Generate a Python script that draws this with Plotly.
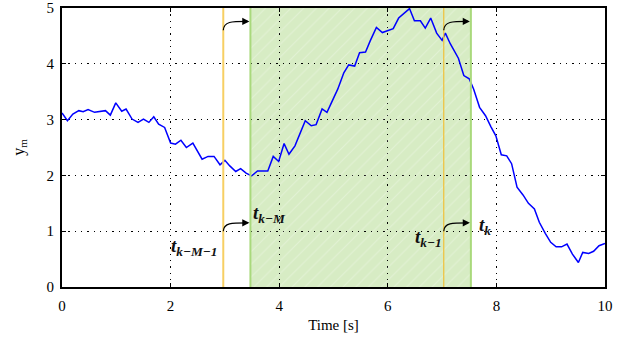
import plotly.graph_objects as go

# ---- data ----
time_s = [0.00, 0.10, 0.20, 0.31, 0.39, 0.48, 0.60, 0.70, 0.80, 0.89, 0.99, 1.10, 1.18, 1.29,
          1.40, 1.50, 1.60, 1.69, 1.78, 1.89, 2.00, 2.09, 2.19, 2.29, 2.41, 2.58, 2.69, 2.80,
          2.91, 3.00, 3.09, 3.20, 3.29, 3.39, 3.49, 3.60, 3.79, 3.89, 3.99, 4.09, 4.18, 4.29,
          4.39, 4.48, 4.59, 4.68, 4.79, 4.88, 5.08, 5.19, 5.28, 5.39, 5.48, 5.59, 5.68, 5.79,
          5.90, 6.00, 6.10, 6.20, 6.29, 6.40, 6.49, 6.60, 6.69, 6.79, 6.90, 7.00, 7.06, 7.15,
          7.30, 7.40, 7.50, 7.58, 7.69, 7.80, 7.90, 7.99, 8.09, 8.19, 8.28, 8.38, 8.49, 8.59,
          8.70, 8.79, 8.90, 9.00, 9.10, 9.20, 9.30, 9.40, 9.51, 9.59, 9.70, 9.79, 9.89, 10.00]
y_m = [3.12, 2.98, 3.10, 3.16, 3.14, 3.18, 3.13, 3.15, 3.16, 3.08, 3.30, 3.15, 3.19, 3.01,
       2.95, 3.01, 2.95, 3.05, 2.92, 2.86, 2.58, 2.56, 2.63, 2.50, 2.58, 2.29, 2.34, 2.34,
       2.19, 2.27, 2.17, 2.07, 2.12, 2.04, 1.99, 2.08, 2.08, 2.34, 2.25, 2.57, 2.38, 2.53,
       2.77, 2.98, 2.89, 2.91, 3.19, 3.13, 3.55, 3.84, 3.98, 3.96, 4.20, 4.21, 4.42, 4.65,
       4.56, 4.59, 4.63, 4.82, 4.90, 4.99, 4.77, 4.77, 4.64, 4.82, 4.55, 4.42, 4.55, 4.36,
       4.10, 3.79, 3.73, 3.55, 3.22, 3.07, 2.87, 2.71, 2.37, 2.35, 2.21, 1.79, 1.65, 1.50,
       1.40, 1.16, 0.96, 0.80, 0.72, 0.72, 0.77, 0.59, 0.44, 0.62, 0.60, 0.64, 0.74, 0.78]

x_ticks = [0, 2, 4, 6, 8, 10]
y_ticks = [0, 1, 2, 3, 4, 5]

# time instants of the window
t_k_M_1 = 2.97
t_k_M = 3.47
t_k_1 = 7.03
t_k = 7.53

# arrow levels (start at old instant, end at new instant)
arrow_top = [4.60, 4.76]
arrow_bottom = [1.00, 1.15]

label_texts = ["t", "k\u2212M\u22121", "k\u2212M", "k\u22121", "k"]
label_y = [0.72, 1.31, 0.87, 1.10]

BLUE = "#0000ff"
YELLOW = "#f7cf63"
GREEN_LINE = "#a9d97c"
GREEN_FILL = "#d7ecc4"
FONT = "Liberation Serif"

fig = go.Figure()

# hatch overlay on the window (transparent background, white diagonal lines)
fig.add_trace(go.Scatter(
    x=[t_k_M, t_k, t_k, t_k_M, t_k_M], y=[0, 0, 5, 5, 0],
    mode="lines", line=dict(width=0), fill="toself",
    fillcolor="rgba(0,0,0,0)",
    fillpattern=dict(shape="/", fgcolor="rgba(255,255,255,0.55)",
                     bgcolor="rgba(0,0,0,0)", size=9, solidity=0.12),
    hoverinfo="skip", showlegend=False))

# the measurement
fig.add_trace(go.Scatter(x=time_s, y=y_m, mode="lines",
                         line=dict(color=BLUE, width=1.5), showlegend=False))

shapes = [
    dict(type="rect", xref="x", yref="y", x0=t_k_M, x1=t_k, y0=0, y1=5,
         fillcolor=GREEN_FILL, line=dict(width=0), layer="below"),
    dict(type="line", xref="x", yref="y", x0=t_k_M_1, x1=t_k_M_1, y0=0, y1=5,
         line=dict(color=YELLOW, width=2)),
    dict(type="line", xref="x", yref="y", x0=t_k_M, x1=t_k_M, y0=0, y1=5,
         line=dict(color=GREEN_LINE, width=2)),
    dict(type="line", xref="x", yref="y", x0=t_k, x1=t_k, y0=0, y1=5,
         line=dict(color=GREEN_LINE, width=2)),
    dict(type="line", xref="x", yref="y", x0=t_k_1, x1=t_k_1, y0=0, y1=5,
         line=dict(color="#eec445", width=1.3)),
]

annotations = []
for x0, x1 in [(t_k_M_1, t_k_M), (t_k_1, t_k)]:
    for ys, ye in [arrow_top, arrow_bottom]:
        dx = x1 - x0
        path = (f"M {x0},{ys} C {x0 + 0.02 * dx},{ye} {x0 + 0.3 * dx},{ye} "
                f"{x1 - 0.12 * dx},{ye}")
        shapes.append(dict(type="path", xref="x", yref="y", path=path,
                           line=dict(color="black", width=1.2)))
        annotations.append(dict(x=x1, y=ye, xref="x", yref="y", ax=-9, ay=0,
                                text="", showarrow=True, arrowhead=2, arrowsize=1.1,
                                arrowwidth=1.3, arrowcolor="black", standoff=1))


def tlabel(sub):
    return (f"<b><i>{label_texts[0]}</i></b>"
            f"<sub><b><i>{sub}</i></b></sub>")


LBL_FONT = dict(family=FONT, size=19, color="#111111")
annotations += [
    dict(x=t_k_M_1, y=label_y[0], xref="x", yref="y", text=tlabel(label_texts[1]),
         showarrow=False, xanchor="right", yanchor="middle", xshift=-3, font=LBL_FONT),
    dict(x=t_k_M, y=label_y[1], xref="x", yref="y", text=tlabel(label_texts[2]),
         showarrow=False, xanchor="left", yanchor="middle", xshift=1, font=LBL_FONT),
    dict(x=t_k_1, y=label_y[2], xref="x", yref="y", text=tlabel(label_texts[3]),
         showarrow=False, xanchor="right", yanchor="middle", xshift=0, font=LBL_FONT),
    dict(x=t_k, y=label_y[3], xref="x", yref="y", text=tlabel(label_texts[4]),
         showarrow=False, xanchor="left", yanchor="middle", xshift=6, font=LBL_FONT),
]

axis_common = dict(
    showline=True, linecolor="black", linewidth=2, mirror="ticks",
    ticks="inside", ticklen=4, tickwidth=1, tickcolor="black",
    showgrid=True, gridcolor="black", gridwidth=1.2, griddash="1.3px,5px",
    zeroline=False, automargin=False,
    tickfont=dict(family=FONT, size=15, color="black"),
)

fig.update_layout(
    width=627, height=344,
    margin=dict(l=62, r=22, t=8, b=57, autoexpand=False),
    paper_bgcolor="white", plot_bgcolor="white",
    font=dict(family=FONT, size=15, color="black"),
    shapes=shapes, annotations=annotations,
    xaxis=dict(range=[0, 10], tickvals=x_ticks, ticktext=[str(v) for v in x_ticks],
               ticklabelstandoff=4,
               title=dict(text="Time [s]", font=dict(family=FONT, size=15), standoff=6),
               **axis_common),
    yaxis=dict(range=[0, 5], tickvals=y_ticks, ticktext=[str(v) for v in y_ticks],
               ticklabelstandoff=3,
               title=dict(text="y<sub>m</sub>", font=dict(family=FONT, size=16), standoff=18),
               **axis_common),
)

fig.write_html("out.html",
               config={"displayModeBar": False, "staticPlot": True},
               post_script="document.body.style.margin='0';"
                           "document.body.style.overflow='hidden';")
